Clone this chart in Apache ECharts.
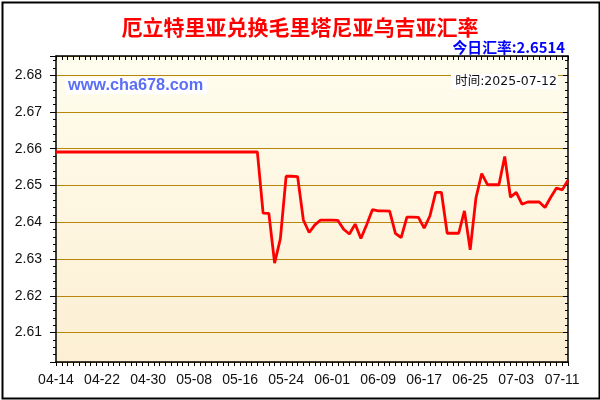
<!DOCTYPE html>
<html>
<head>
<meta charset="utf-8">
<script src="https://cdn.jsdelivr.net/npm/echarts@6/dist/echarts.min.js"></script>
<style>
html,body{margin:0;padding:0;background:#fff;}
#chart{width:600px;height:400px;}
</style>
</head>
<body>
<div id="chart"></div>
<script>
var titleText = '厄立特里亚兑换毛里塔尼亚乌吉亚汇率';
var rateText = '今日汇率:2.6514';
var timeText = '时间:2025-07-12';
var siteText = 'www.cha678.com';

var dates = [
'04-14','04-15','04-16','04-17','04-18','04-19','04-20','04-21','04-22','04-23','04-24','04-25','04-26','04-27','04-28','04-29','04-30',
'05-01','05-02','05-03','05-04','05-05','05-06','05-07','05-08','05-09','05-10','05-11','05-12','05-13','05-14','05-15','05-16','05-17','05-18','05-19','05-20','05-21','05-22','05-23','05-24','05-25','05-26','05-27','05-28','05-29','05-30','05-31',
'06-01','06-02','06-03','06-04','06-05','06-06','06-07','06-08','06-09','06-10','06-11','06-12','06-13','06-14','06-15','06-16','06-17','06-18','06-19','06-20','06-21','06-22','06-23','06-24','06-25','06-26','06-27','06-28','06-29','06-30',
'07-01','07-02','07-03','07-04','07-05','07-06','07-07','07-08','07-09','07-10','07-11','07-12'
];

var rates = [
2.6591,2.6591,2.6591,2.6591,2.6591,2.6591,2.6591,2.6591,2.6591,2.6591,
2.6591,2.6591,2.6591,2.6591,2.6591,2.6591,2.6591,2.6591,2.6591,2.6591,
2.6591,2.6591,2.6591,2.6591,2.6591,2.6591,2.6591,2.6591,2.6591,2.6591,
2.6591,2.6591,2.6591,2.6591,2.6591,2.6591,
2.6425,2.6424,2.6289,2.6355,2.6525,2.6525,2.6524,2.6406,2.6372,2.6393,
2.6406,2.6406,2.6406,2.6405,2.6381,2.6368,2.6395,2.6356,2.6393,2.6434,
2.6431,2.6431,2.6430,2.6370,2.6358,2.6414,2.6414,2.6413,2.6384,2.6417,
2.6481,2.6481,2.6370,2.6370,2.6370,2.6431,2.6325,2.6466,2.6532,2.6502,
2.6502,2.6502,2.6579,2.6468,2.6481,2.6449,2.6455,2.6455,2.6455,2.6440,
2.6468,2.6493,2.6488,2.6514
];

var yMin = 2.602, yMax = 2.6852;

var chart = echarts.init(document.getElementById('chart'), null, {renderer:'canvas'});
var gridColor = '#B8860B';
var labelFont = 'Arial, "Liberation Sans", sans-serif';

chart.setOption({
  animation: false,
  backgroundColor: '#fff',
  grid: {
    left: 56, top: 56, right: 32, bottom: 38,
    show: true,
    borderWidth: 0,
    backgroundColor: new echarts.graphic.LinearGradient(0,0,0,1,[
      {offset:0,color:'#FFFDEE'},{offset:1,color:'#FCEFD3'}
    ])
  },
  xAxis: [{
    type: 'category', data: dates, boundaryGap: false, position: 'bottom',
    axisLine: {show:true, lineStyle:{color:'#000', width:1.5}},
    axisTick: {show:true, interval:0, length:4, inside:false, lineStyle:{color:'#000'}},
    axisLabel: {interval:7, fontSize:14, color:'#111', margin:11, fontFamily: labelFont},
    splitLine: {show:false}
  },{
    type: 'category', data: dates, boundaryGap: false, position: 'top',
    axisLine: {show:true, lineStyle:{color:'#000', width:1.5}},
    axisTick: {show:true, interval:0, length:4, inside:true, lineStyle:{color:'#000'}},
    axisLabel: {show:false},
    splitLine: {show:false}
  }],
  yAxis: [{
    type: 'value', min: yMin, max: yMax, splitNumber: 8, position: 'left',
    axisLine: {show:true, lineStyle:{color:'#000', width:1.5}},
    axisTick: {show:true, length:6, inside:false, lineStyle:{color:'#000'}},
    minorTick: {show:true, splitNumber:5, length:3, lineStyle:{color:'#000'}},
    axisLabel: {fontSize:14, color:'#111', margin:14, showMinLabel:false, showMaxLabel:false,
      fontFamily: labelFont,
      formatter: function(v){ return v.toFixed(2); }},
    splitLine: {show:true, lineStyle:{color:gridColor, width:1}}
  },{
    type: 'value', min: yMin, max: yMax, splitNumber: 8, position: 'right',
    axisLine: {show:true, lineStyle:{color:'#000', width:1.5}},
    axisTick: {show:true, length:5, inside:true, lineStyle:{color:'#000'}},
    minorTick: {show:true, splitNumber:5, length:3, lineStyle:{color:'#000'}},
    axisLabel: {show:false},
    splitLine: {show:false}
  }],
  series: [{
    type: 'line', data: rates, xAxisIndex:0, yAxisIndex:0,
    showSymbol: false, symbol:'none',
    lineStyle: {color:'#FF0000', width:2.8},
    z: 5
  }],
  graphic: [
    {type:'rect', left:0, top:0, shape:{x:1, y:1, width:597, height:396}, style:{fill:'none', stroke:'#000', lineWidth:2}, z:100},
    {type:'text', x:300, y:27, style:{text:titleText, fill:'#FF0000', font:'bold 21px "Noto Sans CJK SC", sans-serif', textAlign:'center', textVerticalAlign:'middle'}, z:100},
    {type:'text', x:565, y:47, style:{text:rateText, fill:'#0000FF', font:'bold 14.8px "Noto Sans CJK SC", sans-serif', textAlign:'right', textVerticalAlign:'middle'}, z:100},
    {type:'rect', shape:{x:65, y:78, width:142, height:16}, style:{fill:'#FFFFFF'}, z:50},
    {type:'text', x:68, y:86, style:{text:siteText, fill:'#5B6EF5', font:'bold 16.3px Arial, "Liberation Sans", sans-serif', textAlign:'left', textVerticalAlign:'middle'}, z:51},
    {type:'rect', shape:{x:451, y:74, width:107, height:15}, style:{fill:'#FFFFFF'}, z:50},
    {type:'text', x:557, y:81.5, style:{text:timeText, fill:'#111', font:'12.5px "DejaVu Sans", "Noto Sans CJK SC", sans-serif', textAlign:'right', textVerticalAlign:'middle'}, z:51}
  ]
});
</script>
</body>
</html>
